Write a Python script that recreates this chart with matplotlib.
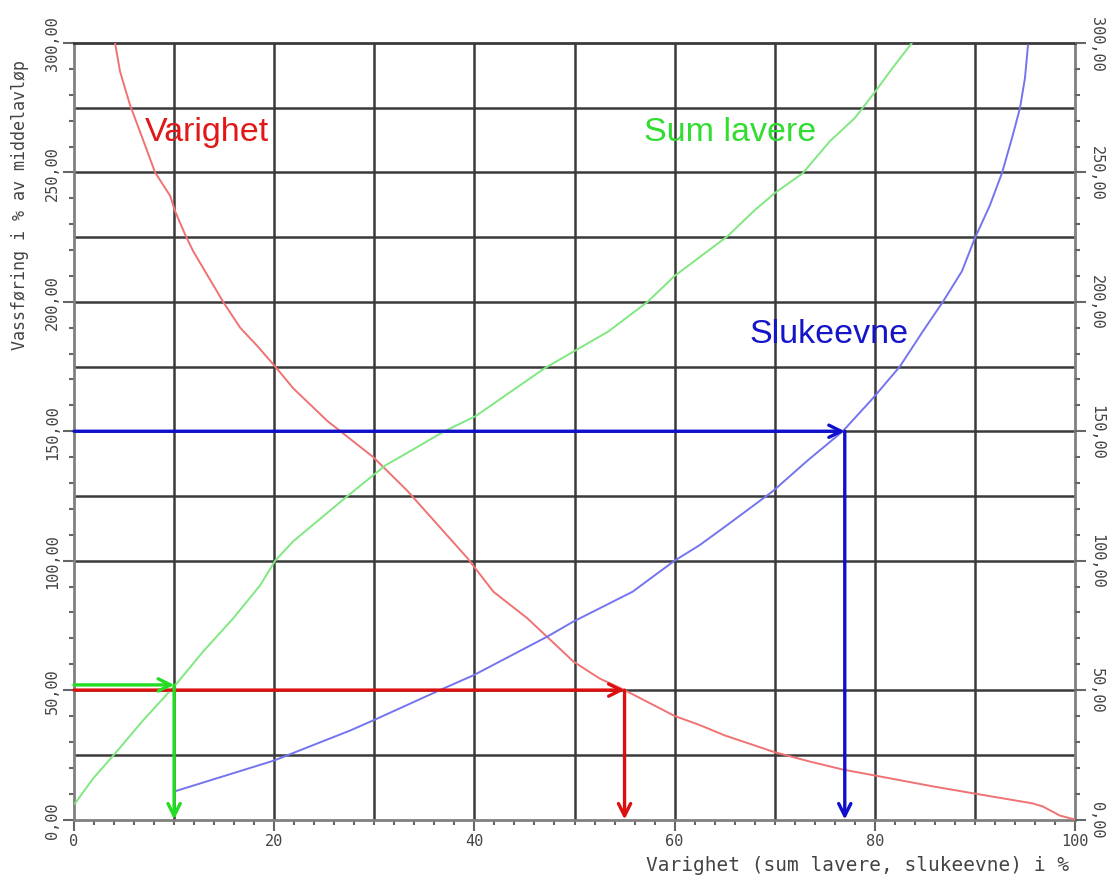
import matplotlib.pyplot as plt
import numpy as np

# Varighet (duration curve), in % of mean flow
varighet_x = [4.1, 4.6, 5.6, 7.1, 8.1, 9.6, 10.1, 11.1, 11.9, 14.9, 16.6, 18.3, 20.1, 21.9,
              25.3, 27.6, 29.9, 33.3, 39.3, 41.9, 45.3, 49.9, 52.5, 55.0, 60.0, 62.5, 65.0,
              70.0, 73.5, 76.8, 80.0, 85.8, 90.0, 95.8, 96.8, 98.5, 100.0]
varighet_y = [300, 289, 276, 260.5, 250, 241, 235, 226, 219.6, 200, 190, 183, 175, 166.6,
              154, 147, 140, 127, 101, 88, 77.7, 61, 54.5, 50, 40, 36.5, 32.5,
              26, 22.4, 19.3, 17, 12.8, 10, 6.2, 5, 1.5, 0]

# Sum lavere
sum_x = [0.1, 1.9, 4.1, 6.9, 10.1, 12.9, 15.9, 18.6, 20.1, 21.9, 27.3, 31.1, 33.0, 37.0,
         40.1, 47.0, 50.0, 53.4, 57.3, 60.0, 65.3, 68.0, 70.0, 72.8, 75.5, 78.0, 80.0,
         81.9, 83.7]
sum_y = [6.2, 15.8, 25.5, 38.3, 51.8, 64.9, 77.7, 90.5, 100, 107.5, 124.9, 136.8, 141, 150,
         155.8, 174.3, 181, 188.6, 200, 210, 225.4, 235.4, 242, 249.7, 262, 271, 281,
         291, 300]

# Slukeevne
sluk_x = [10.0, 20.0, 27.6, 29.9, 36.9, 39.9, 47.3, 49.9, 55.8, 60.0, 62.5, 65.2, 69.8,
          73.2, 76.8, 79.8, 82.5, 84.8, 86.8, 88.7, 90.0, 91.5, 92.7, 93.7, 94.5, 95.0, 95.3]
sluk_y = [10.8, 22.8, 34.4, 38.3, 50.6, 55.7, 70.7, 76.5, 88, 100, 106, 113.6, 126.8,
          138.4, 150, 162.7, 175, 188.6, 200, 211.8, 224.6, 237.3, 249.7, 263.2, 274.8, 286.4, 299]

# read-off guides: (x, y) where each guide hits its curve
guide_x = [55, 10, 77]
guide_y = [50, 52, 150]

grid_x = [10, 20, 30, 40, 50, 60, 70, 80, 90]
grid_y = [25, 50, 100, 125, 150, 175, 200, 225, 250, 275]

y_ticks = [0, 50, 100, 150, 200, 250, 300]
y_labels = ["0,00", "50,00", "100,00", "150,00", "200,00", "250,00", "300,00"]
x_ticks = [0, 20, 40, 60, 80, 100]

fig = plt.figure(figsize=(11.1, 8.78), dpi=100)
ax = fig.add_axes([74/1110, 1 - 820.5/878, (1075 - 74)/1110, (820.5 - 44)/878])
ax.set_xlim(0, 100)
ax.set_ylim(0, 300)

ax.vlines(grid_x, 0, 300, color="#3a3a3a", lw=1.8, zorder=1)
ax.hlines(grid_y, 0, 100, color="#3a3a3a", lw=1.8, zorder=1)

ax.plot(varighet_x, varighet_y, color="#f07272", lw=1.4, zorder=3)
ax.plot(sum_x, sum_y, color="#80e880", lw=1.4, zorder=3)
ax.plot(sluk_x, sluk_y, color="#7474ee", lw=1.4, zorder=3)

guide_colors = ["#dd1010", "#22dd22", "#1010cc"]
for gx, gy, c in zip(guide_x, guide_y, guide_colors):
    ap = dict(arrowstyle="->", color=c, lw=2.4, shrinkA=0, shrinkB=0, mutation_scale=22)
    ax.annotate("", xy=(gx, gy), xytext=(0, gy), arrowprops=ap, zorder=4)
    ax.annotate("", xy=(gx, 0), xytext=(gx, gy), arrowprops=ap, zorder=4)

ax.text(7.1, 262.6, "Varighet", color="#e01818", fontsize=24.5,
        family="Liberation Sans", va="baseline", ha="left")
ax.text(56.9, 262.4, "Sum lavere", color="#30dd30", fontsize=24.5,
        family="Liberation Sans", va="baseline", ha="left")
ax.text(67.5, 184.6, "Slukeevne", color="#1414c8", fontsize=24.5,
        family="Liberation Sans", va="baseline", ha="left")

for s in ax.spines.values():
    s.set_color("#808080")
    s.set_linewidth(2)
ax.spines["top"].set_color("#3a3a3a")

ax.set_xticks(x_ticks)
ax.set_xticks(np.arange(0, 101, 2), minor=True)
ax.set_xticklabels([str(v) for v in x_ticks], family="DejaVu Sans Mono", fontsize=11, color="#444")
ax.set_yticks(y_ticks)
ax.set_yticks(np.arange(0, 301, 10), minor=True)
ax.set_yticklabels(y_labels, family="DejaVu Sans Mono", fontsize=11, color="#444",
                   rotation=90, va="center")
ax.tick_params(axis="both", which="major", length=8, width=1.5, color="#666")
ax.tick_params(axis="both", which="minor", length=3.5, width=1.5, color="#666")
ax.tick_params(axis="x", pad=2)
ax.tick_params(axis="y", pad=2)

ax2 = ax.twinx()
ax2.set_ylim(0, 300)
ax2.set_yticks(y_ticks)
ax2.set_yticks(np.arange(0, 301, 10), minor=True)
ax2.set_yticklabels(y_labels, family="DejaVu Sans Mono", fontsize=11, color="#444",
                    rotation=-90, va="center")
ax2.tick_params(axis="y", which="major", length=8, width=1.5, color="#666", pad=2)
ax2.tick_params(axis="y", which="minor", length=3.5, width=1.5, color="#666")
for s in ax2.spines.values():
    s.set_visible(False)

fig.text(20/1110, 1 - 205/878, "Vassføring i % av middelavløp", rotation=90,
         family="DejaVu Sans Mono", fontsize=12, color="#444", ha="center", va="center")
fig.text(1069/1110, 1 - 866/878, "Varighet (sum lavere, slukeevne) i %",
         family="DejaVu Sans Mono", fontsize=14, color="#444", ha="right", va="center")

fig.savefig("out.png", dpi=100)
